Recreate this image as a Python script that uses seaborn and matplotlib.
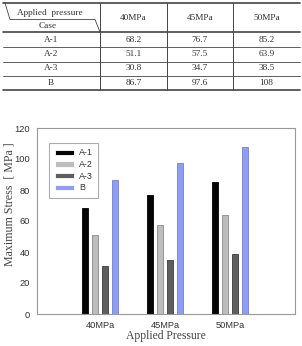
import pandas as pd
import seaborn as sns
import matplotlib.pyplot as plt
from matplotlib.lines import Line2D

pressures = ["40MPa", "45MPa", "50MPa"]
cases = ["A-1", "A-2", "A-3", "B"]
a1 = [68.2, 76.7, 85.2]
a2 = [51.1, 57.5, 63.9]
a3 = [30.8, 34.7, 38.5]
b = [86.7, 97.6, 108]
table_text = ["68.2", "76.7", "85.2"], ["51.1", "57.5", "63.9"], ["30.8", "34.7", "38.5"], ["86.7", "97.6", "108"]
bar_colors = ["#050505", "#bdbdbd", "#5e5e5e", "#909ef2"]
edge_colors = ["#000000", "#8a8a8a", "#3c3c3c", "#6f80e0"]

sns.set_style("white")
plt.rcParams["font.family"] = ["Liberation Sans", "DejaVu Sans"]
serif = ["Liberation Serif", "DejaVu Serif"]

rows = []
for case, vals in zip(cases, [a1, a2, a3, b]):
    for p, v in zip(pressures, vals):
        rows.append({"pressure": p, "case": case, "stress": v})
df = pd.DataFrame(rows)

fig = plt.figure(figsize=(3.02, 3.46), dpi=100)

# ---- table drawn in pixel coordinates ----
tab = fig.add_axes([0, 0, 1, 1], zorder=-1)
tab.set_xlim(0, 302)
tab.set_ylim(346, 0)
tab.axis("off")
lc = "#444444"
for y, lw in [(3, 1.2), (32, 1.2), (47, 0.6), (61.5, 0.6), (76, 0.6), (90, 1.2)]:
    tab.add_line(Line2D([3, 300], [y, y], color=lc, lw=lw))
for x in [100, 167, 233]:
    tab.add_line(Line2D([x, x], [3, 90], color=lc, lw=0.7))
tab.add_line(Line2D([5, 10, 95, 100], [3, 19.5, 19.5, 32], color=lc, lw=0.6))
tab.text(50, 13, "Applied  pressure", ha="center", va="center", fontsize=6.7, family=serif, color="#333333")
tab.text(48, 25.5, "Case", ha="center", va="center", fontsize=6.7, family=serif, color="#333333")
col_x = [133.5, 200, 266.5]
row_y = [39.5, 54, 68.5, 83]
for cx, p in zip(col_x, pressures):
    tab.text(cx, 18, p, ha="center", va="center", fontsize=6.7, family=serif, color="#333333")
for ry, case, vals in zip(row_y, cases, table_text):
    tab.text(51, ry, case, ha="center", va="center", fontsize=6.7, family=serif, color="#333333")
    for cx, v in zip(col_x, vals):
        tab.text(cx, ry, v, ha="center", va="center", fontsize=6.7, family=serif, color="#333333")

# ---- bar chart ----
ax = fig.add_axes([37 / 302, 1 - 314 / 346, 258 / 302, 186 / 346])
sns.barplot(data=df, x="pressure", y="stress", hue="case", hue_order=cases,
            palette=bar_colors, saturation=1, width=0.615, gap=0.4,
            errorbar=None, linewidth=0.6, ax=ax)
for cont, ec in zip(ax.containers, edge_colors):
    for bar in cont:
        bar.set_edgecolor(ec)

ax.set_xlim(-0.97, 3.0)
ax.set_ylim(0, 120)
ax.set_yticks(range(0, 121, 20))
for s in ax.spines.values():
    s.set_color("#999999")
    s.set_linewidth(0.8)
ax.tick_params(axis="both", labelsize=6.7, colors="#999999", labelcolor="#333333", direction="out")
ax.tick_params(axis="y", length=3, width=0.7, pad=2)
ax.tick_params(axis="x", length=2, width=0.7, pad=3)
ax.set_ylabel("Maximum Stress  [ MPa ]", family=serif, fontsize=8.6, color="#444444")
ax.yaxis.set_label_coords(-0.082, 0.59)
ax.set_xlabel("Applied Pressure", family=serif, fontsize=8.4, color="#444444", labelpad=0)

handles, labels = ax.get_legend_handles_labels()
leg = ax.legend(handles, labels, loc="upper left", bbox_to_anchor=(0.0465, 0.921),
                borderaxespad=0, fontsize=6.4, frameon=True, fancybox=False,
                handlelength=2.2, handleheight=0.55, handletextpad=0.5,
                labelspacing=0.3, borderpad=0.65)
leg.get_frame().set_edgecolor("#999999")
leg.get_frame().set_linewidth(0.8)
for t in leg.get_texts():
    t.set_color("#333333")

fig.savefig("out.png", dpi=100)
